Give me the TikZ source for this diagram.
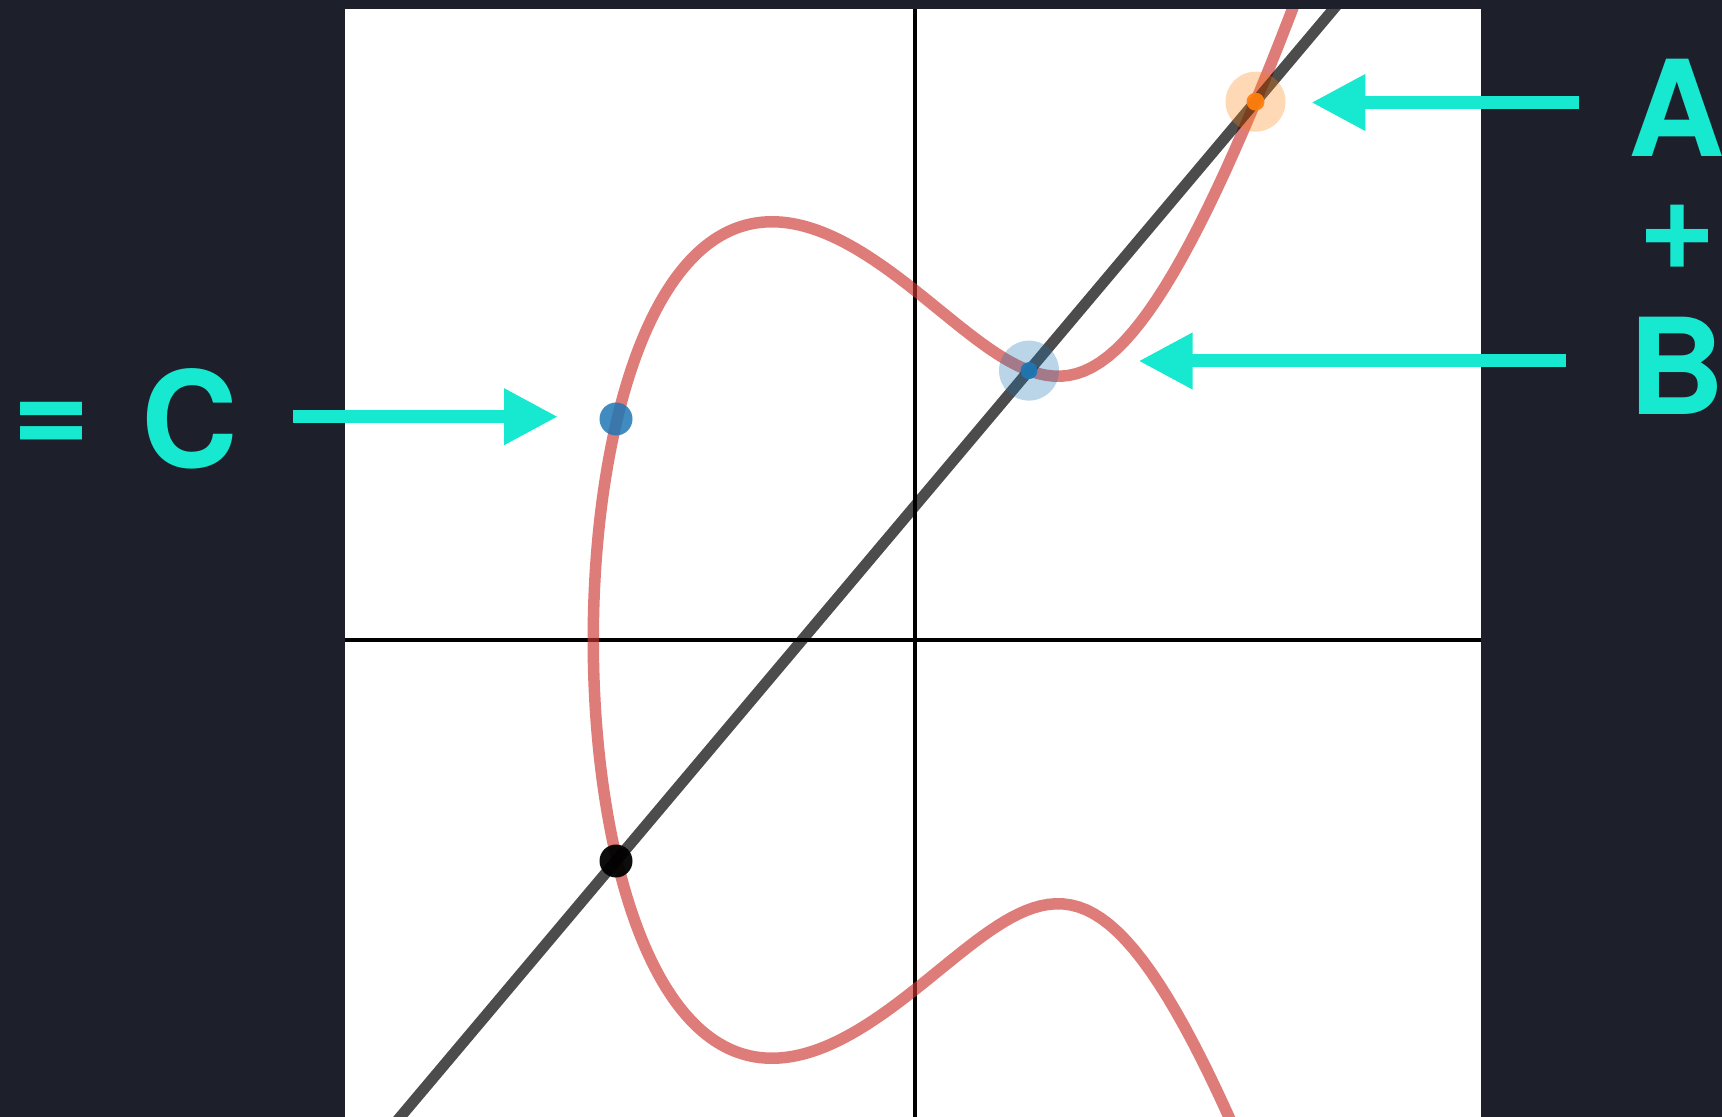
\documentclass[tikz,border=0pt]{standalone}
\usepackage{fontspec}
\setmainfont{TeX Gyre Heros}
\usepackage{tikz}
\usetikzlibrary{arrows.meta,calc}
\definecolor{panelbg}{RGB}{29,31,43}
\definecolor{tealarrow}{RGB}{23,232,208}
\definecolor{curvered}{RGB}{205,55,50}
\definecolor{ptblue}{RGB}{31,119,180}
\definecolor{ptorange}{RGB}{255,127,14}

\begin{document}
\begin{tikzpicture}[x=0.1mm,y=-0.1mm,
  axisline/.style={draw=black,line width=0.35mm},
  ecurve/.style={draw=curvered,line width=1.15mm,opacity=0.65},
  chord/.style={draw=black,line width=1.1mm,opacity=0.7},
  halo/.style={circle,inner sep=0pt,minimum size=6mm,opacity=0.3},
  ptdot/.style={circle,inner sep=0pt,minimum size=#1},
  pointer/.style={draw=tealarrow,line width=1.3mm,-{Triangle[length=5.4mm,width=5.3mm]}},
  eqtext/.style={text=tealarrow,font=\fontsize{38pt}{32.4pt}\selectfont\bfseries,
                 inner sep=0pt}]
  \fill[panelbg] (0,0) rectangle (1722,1117);
  \useasboundingbox (0,0) rectangle (1722,1117);
  \fill[white] (345,9.5) rectangle (1481,1117);
  \coordinate (pA) at (1255.5,101.7);
  \coordinate (pB) at (1029,370.6);
  \coordinate (pM) at (616,861);
  \coordinate (pC) at (616,419);
  \begin{scope}
    \clip (345,9.5) rectangle (1481,1117);
    \draw[axisline] (915,0) -- (915,1117);
    \draw[axisline] (345,640) -- (1481,640);
    \draw[ecurve] plot[domain=-2.15:2.25,samples=301,variable=\u]
      ({915+143*(\u*\u-2.25)},
       {640-162.3*\u*sqrt((\u*\u-2.25)*(\u*\u-2.25)-2.25*(\u*\u-2.25)+2.0625)});
    \draw[chord] ($(pB)!2.5!(pA)$) -- ($(pA)!4!(pB)$);
  \end{scope}
  \node[halo,fill=ptorange] (haloA) at (pA) {};
  \node[halo,fill=ptblue] (haloB) at (pB) {};
  \node[ptdot=1.8mm,fill=ptorange,opacity=0.95] (ptA) at (pA) {};
  \node[ptdot=1.7mm,fill=ptblue,opacity=0.95] (ptB) at (pB) {};
  \node[ptdot=3.3mm,fill=ptblue,opacity=0.85] (ptC) at (pC) {};
  \node[ptdot=3.3mm,fill=black,opacity=0.95] (ptM) at (pM) {};

  \node[eqtext,align=center,anchor=north] (labSum) at (1677,58) {A\\+\\[8.6pt]B};
  \node[eqtext,anchor=base west] (labC) at (12,468)
    {\raisebox{1.4mm}{=}\hspace{1.35mm} C};

  \coordinate (tailA) at (1578.7,102.5);
  \coordinate (tailB) at (1566,361);
  \coordinate (tailC) at (292.5,416.7);
  \draw[pointer,shorten >=5.58mm] (tailA) -- (tailA -| ptA);
  \draw[pointer,shorten >=10.95mm] (tailB) -- (tailB -| ptB);
  \draw[pointer,shorten >=5.8mm] (tailC) -- (tailC -| ptC);
\end{tikzpicture}
\end{document}
